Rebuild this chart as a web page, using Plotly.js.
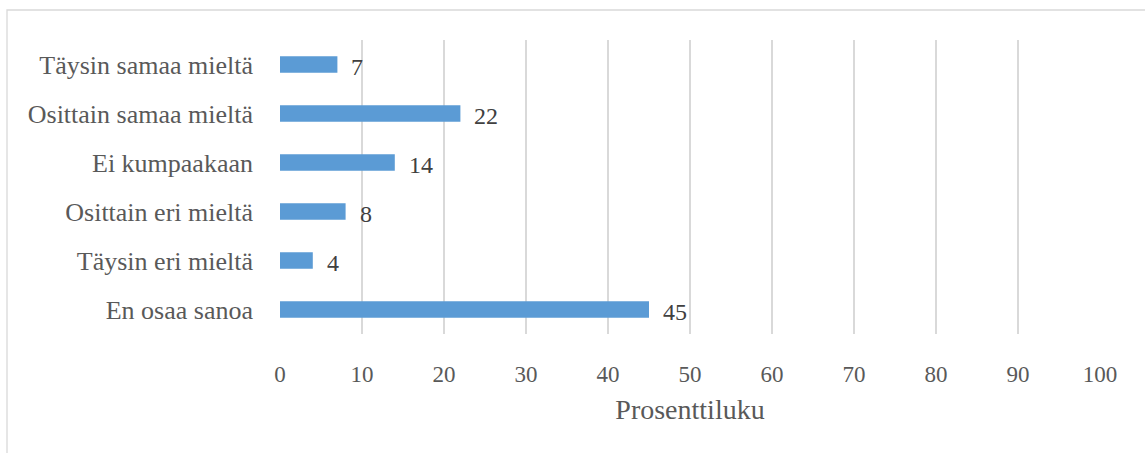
<!DOCTYPE html>
<html>
<head>
<meta charset="utf-8">
<script src="https://cdn.plot.ly/plotly-3.0.1.min.js"></script>
<style>
  html, body { margin: 0; padding: 0; background: #ffffff; }
  #chart { width: 1145px; height: 453px; }
</style>
</head>
<body>
<div id="chart"></div>
<script>
const categories = [
  "Täysin samaa mieltä",
  "Osittain samaa mieltä",
  "Ei kumpaakaan",
  "Osittain eri mieltä",
  "Täysin eri mieltä",
  "En osaa sanoa"
];
const values = [7, 22, 14, 8, 4, 45];
const xTicks = [0, 10, 20, 30, 40, 50, 60, 70, 80, 90, 100];
const xTitle = "Prosenttiluku";

const FONT = "'Liberation Serif', 'Times New Roman', serif";

const trace = {
  type: "bar",
  orientation: "h",
  y: categories,
  x: values,
  marker: { color: "#5B9BD5", line: { width: 0 } },
  hoverinfo: "none",
  textposition: "none"
};

const annotations = categories.map((c, i) => ({
  x: values[i],
  y: c,
  xref: "x",
  yref: "y",
  text: String(values[i]),
  showarrow: false,
  xanchor: "left",
  yanchor: "middle",
  xshift: 12,
  yshift: -2,
  font: { family: FONT, size: 24, color: "#404040" }
}));

const layout = {
  width: 1145,
  height: 453,
  margin: { l: 280, r: 45, t: 40, b: 119 },
  paper_bgcolor: "#ffffff",
  plot_bgcolor: "#ffffff",
  showlegend: false,
  bargap: 0.66,
  font: { family: FONT, color: "#595959" },
  xaxis: {
    range: [0, 100],
    tickvals: xTicks,
    ticktext: xTicks.map(String),
    showgrid: true,
    gridcolor: "#d9d9d9",
    gridwidth: 1.3,
    zeroline: false,
    showline: false,
    ticks: "",
    ticklabelstandoff: 24,
    tickfont: { family: FONT, size: 23, color: "#595959" },
    title: { text: xTitle, font: { family: FONT, size: 28, color: "#595959" }, standoff: 13 },
    fixedrange: true
  },
  yaxis: {
    type: "category",
    autorange: "reversed",
    showgrid: false,
    zeroline: false,
    showline: false,
    ticks: "",
    ticklabelstandoff: 26,
    tickfont: { family: FONT, size: 26, color: "#595959" },
    fixedrange: true
  },
  annotations: annotations,
  shapes: [{
    type: "rect",
    xref: "paper", yref: "paper",
    x0: (7 - 280) / 820, x1: (1160 - 280) / 820,
    y0: (334 - 470) / 294, y1: (334 - 10) / 294,
    line: { color: "#d9d9d9", width: 1.3 },
    fillcolor: "rgba(0,0,0,0)",
    layer: "below"
  }]
};

Plotly.newPlot("chart", [trace], layout, { displayModeBar: false, staticPlot: true });
</script>
</body>
</html>
